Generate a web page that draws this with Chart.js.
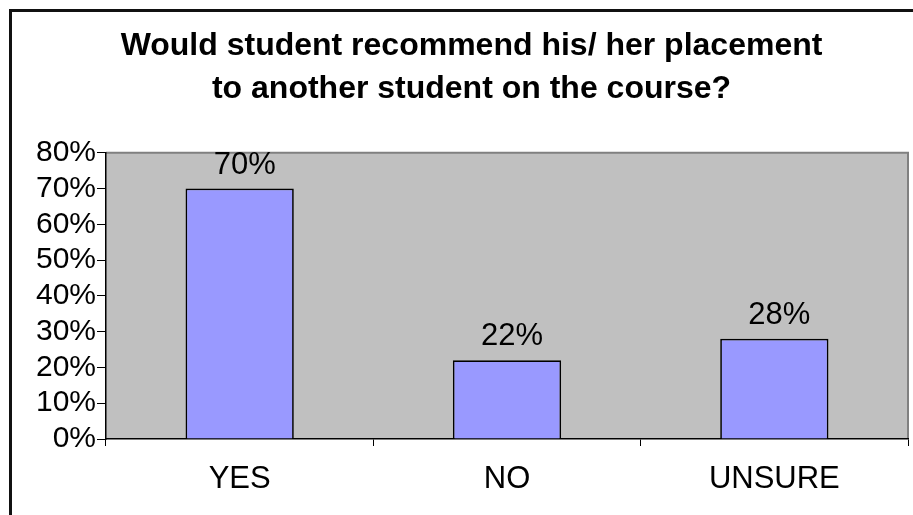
<!DOCTYPE html>
<html lang="en">

<head>
    <meta charset="UTF-8" />
    <title>Placement recommendation</title>
    <script src="https://cdn.jsdelivr.net/npm/chart.js"></script>
    <style>
        body { margin: 0; background: #fff; overflow: hidden; }
        #marco {
            position: absolute; left: 9px; top: 9px; width: 960px; height: 560px;
            border-left: 3px solid #111; border-top: 3px solid #111;
        }
        #caja { position: absolute; left: 0; top: 0; width: 913px; height: 515px; }
    </style>
</head>

<body>
    <div id="marco"></div>
    <div id="caja"><canvas id="grafica"></canvas></div>

    <script>
        const categorias = ['YES', 'NO', 'UNSURE'];
        const valores = [0.70, 0.22, 0.28];
        const etiquetas = ['70%', '22%', '28%'];
        const tituloLineas = ['Would student recommend his/ her placement', 'to another student on the course?'];

        const fuente = "'Liberation Sans', Arial, sans-serif";

        // fondo gris del área de trazado
        const fondoArea = {
            id: 'fondoArea',
            beforeDraw(chart) {
                const { ctx, chartArea: a } = chart;
                ctx.save();
                ctx.fillStyle = '#C0C0C0';
                ctx.fillRect(a.left, a.top, a.right - a.left, a.bottom - a.top);
                ctx.strokeStyle = '#808080';
                ctx.lineWidth = 2;
                ctx.beginPath();
                ctx.moveTo(a.left, a.top);
                ctx.lineTo(a.right, a.top);
                ctx.lineTo(a.right, a.bottom);
                ctx.stroke();
                ctx.restore();
            }
        };

        // etiquetas de valor encima de las barras
        const etiquetasBarras = {
            id: 'etiquetasBarras',
            afterDatasetsDraw(chart) {
                const { ctx } = chart;
                ctx.save();
                ctx.font = '31px ' + fuente;
                ctx.fillStyle = '#000';
                ctx.textAlign = 'center';
                ctx.textBaseline = 'alphabetic';
                chart.getDatasetMeta(0).data.forEach((bar, i) => {
                    ctx.fillText(etiquetas[i], bar.x + 5, bar.y - 15);
                });
                ctx.restore();
            }
        };

        new Chart(document.getElementById('grafica'), {
            type: 'bar',
            data: {
                labels: categorias,
                datasets: [{
                    data: valores,
                    backgroundColor: '#9999FF',
                    borderColor: '#000',
                    borderWidth: 1.7,
                    barPercentage: 0.405,
                    categoryPercentage: 1
                }]
            },
            options: {
                responsive: true,
                maintainAspectRatio: false,
                animation: false,
                // el título va centrado algo a la derecha
                layout: { padding: { left: 35, right: 5, top: 0, bottom: 0 } },
                plugins: {
                    legend: { display: false },
                    tooltip: { enabled: false },
                    title: {
                        display: true,
                        text: tituloLineas,
                        color: '#000',
                        font: { family: fuente, size: 32, weight: 'bold', lineHeight: 1.34 },
                        padding: { top: 25, bottom: 42 }
                    }
                },
                scales: {
                    x: {
                        grid: { drawOnChartArea: false, drawTicks: true, tickLength: 7, color: '#000' },
                        border: { color: '#000', width: 1.5 },
                        ticks: { color: '#000', padding: 15, font: { family: fuente, size: 31 } },
                        afterFit(scale) { scale.height = 76; }
                    },
                    y: {
                        min: 0,
                        max: 0.8,
                        grid: { drawOnChartArea: false, drawTicks: true, tickLength: 9, color: '#000' },
                        border: { color: '#000', width: 1.5 },
                        ticks: {
                            stepSize: 0.1,
                            autoSkip: false,
                            color: '#000',
                            padding: 1,
                            font: { family: fuente, size: 30 },
                            callback: v => Math.round(v * 100) + '%'
                        },
                        afterFit(scale) { scale.width = 71; }
                    }
                }
            },
            plugins: [fondoArea, etiquetasBarras]
        });
    </script>
</body>

</html>
